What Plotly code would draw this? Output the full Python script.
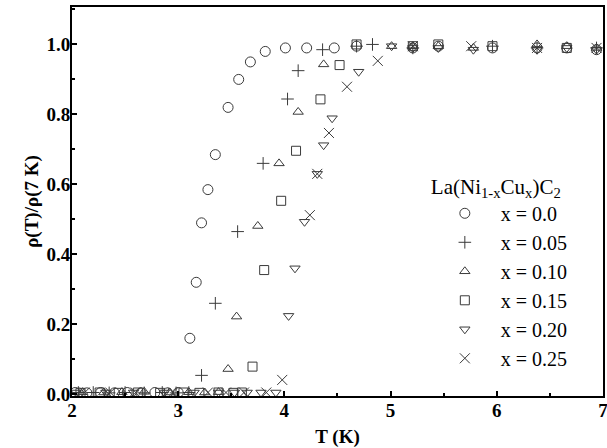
import plotly.graph_objects as go

# x = 0.0 (circles)
t_00 = [2.03, 2.14, 2.27, 2.40, 2.52, 2.65, 2.78, 2.90, 3.00, 3.11, 3.17, 3.22, 3.28, 3.35, 3.47, 3.57, 3.68, 3.82, 4.01, 4.21, 4.47, 4.68, 5.21, 5.45, 5.96, 6.38, 6.66, 6.94]
r_00 = [0.005, 0.004, 0.005, 0.004, 0.005, 0.004, 0.005, 0.004, 0.005, 0.16, 0.32, 0.49, 0.585, 0.685, 0.82, 0.90, 0.95, 0.98, 0.99, 0.99, 0.99, 0.995, 0.99, 0.995, 0.99, 0.99, 0.99, 0.985]
# x = 0.05 (plus)
t_05 = [2.06, 2.20, 2.35, 2.50, 2.68, 2.85, 2.98, 3.10, 3.22, 3.35, 3.56, 3.80, 4.03, 4.13, 4.36, 4.68, 4.83, 5.21, 5.96, 6.38, 6.94]
r_05 = [0.005, 0.005, 0.004, 0.005, 0.004, 0.005, 0.004, 0.005, 0.054, 0.26, 0.465, 0.66, 0.844, 0.925, 0.985, 0.995, 1.0, 0.99, 0.995, 0.99, 0.99]
# x = 0.10 (triangle up)
t_10 = [2.10, 2.30, 2.47, 2.68, 2.92, 3.10, 3.25, 3.38, 3.47, 3.55, 3.75, 3.95, 4.13, 4.37, 5.01, 5.21, 5.45, 5.78, 6.38, 6.66, 6.94]
r_10 = [0.006, 0.005, 0.006, 0.007, 0.005, 0.006, 0.005, 0.006, 0.072, 0.222, 0.481, 0.66, 0.807, 0.943, 0.995, 0.995, 0.995, 0.99, 1.0, 0.995, 0.99]
# x = 0.15 (square)
t_15 = [2.08, 2.26, 2.44, 2.62, 2.83, 3.05, 3.20, 3.38, 3.52, 3.60, 3.70, 3.81, 3.97, 4.11, 4.34, 4.52, 4.68, 5.21, 5.45, 5.96, 6.66]
r_15 = [0.004, 0.005, 0.004, 0.005, 0.004, 0.005, 0.004, 0.005, 0.004, 0.005, 0.079, 0.355, 0.553, 0.696, 0.843, 0.941, 1.0, 0.995, 1.0, 0.995, 0.99]
# x = 0.20 (triangle down)
t_20 = [2.04, 2.32, 2.58, 2.87, 3.15, 3.38, 3.53, 3.65, 3.78, 3.92, 4.04, 4.10, 4.19, 4.31, 4.37, 4.45, 4.70, 5.01, 5.21, 5.45, 5.78, 6.38, 6.66, 6.94]
r_20 = [0.005, 0.005, 0.005, 0.005, 0.005, 0.005, 0.005, 0.005, 0.005, 0.005, 0.224, 0.36, 0.493, 0.63, 0.712, 0.789, 0.922, 0.995, 0.99, 0.99, 0.985, 0.985, 0.99, 0.985]
# x = 0.25 (x)
t_25 = [2.12, 2.36, 2.60, 2.95, 3.28, 3.45, 3.62, 3.83, 3.98, 4.24, 4.31, 4.42, 4.59, 4.88, 5.21, 5.76, 6.38, 6.94]
r_25 = [0.005, 0.005, 0.005, 0.005, 0.005, 0.005, 0.005, 0.005, 0.041, 0.512, 0.63, 0.747, 0.879, 0.953, 0.995, 0.995, 0.99, 0.99]

series_names = ["x = 0.0", "x = 0.05", "x = 0.10", "x = 0.15", "x = 0.20", "x = 0.25"]
series_t = [t_00, t_05, t_10, t_15, t_20, t_25]
series_r = [r_00, r_05, r_10, r_15, r_20, r_25]
symbols = ["circle-open", "cross-thin-open", "triangle-up-open", "square-open", "triangle-down-open", "x-thin-open"]
sizes = [10, 9, 9, 9, 9, 10]

x_ticks = [2, 3, 4, 5, 6, 7]
y_ticks = [0.0, 0.2, 0.4, 0.6, 0.8, 1.0]

ink = "#3a3a3a"
fig = go.Figure()
for name, t, r, sym, sz in zip(series_names, series_t, series_r, symbols, sizes):
    fig.add_trace(go.Scatter(
        x=t, y=r, mode="markers", name=name,
        marker=dict(symbol=sym, size=sz, color=ink, line=dict(color=ink, width=1)),
    ))

serif = "Liberation Serif"
fig.update_layout(
    width=607, height=448,
    margin=dict(l=72, r=4, t=7, b=52, autoexpand=False),
    plot_bgcolor="white", paper_bgcolor="white",
    legend=dict(
        x=0.672, y=0.59, xanchor="left", yanchor="top",
        bgcolor="rgba(0,0,0,0)",
        font=dict(family=serif, size=20, color="black"),
        title=dict(text="La(Ni<sub>1-x</sub>Cu<sub>x</sub>)C<sub>2</sub>",
                   font=dict(family=serif, size=21, color="black"), side="top"),
        tracegroupgap=0, itemwidth=62,
    ),
    xaxis=dict(
        range=[2, 7.001], tickvals=x_ticks, ticktext=[str(v) for v in x_ticks],
        ticks="inside", ticklen=5, tickwidth=2, tickcolor="black",
        minor=dict(ticks="inside", ticklen=3, tickwidth=2, tickcolor="black", dtick=0.5),
        showline=True, linecolor="black", linewidth=2, mirror=True,
        showgrid=False, zeroline=False, automargin=False, ticklabelstandoff=-4,
        ticklabeloverflow="allow",
        tickfont=dict(family=serif, size=19, color="black", weight="bold"),
        title=dict(text="T (K)", font=dict(family=serif, size=19, color="black", weight="bold")),
    ),
    yaxis=dict(
        range=[-0.005, 1.107], tickvals=y_ticks, ticktext=["%.1f" % v for v in y_ticks],
        ticks="inside", ticklen=5, tickwidth=2, tickcolor="black",
        minor=dict(ticks="inside", ticklen=3, tickwidth=2, tickcolor="black", dtick=0.1),
        showline=True, linecolor="black", linewidth=2, mirror=True,
        showgrid=False, zeroline=False, automargin=True, ticklabelstandoff=-4,
        tickfont=dict(family=serif, size=19, color="black", weight="bold"),
        title=dict(text="ρ(T)/ρ(7 K)", font=dict(family=serif, size=19, color="black", weight="bold"),
                   standoff=3),
    ),
)

fig.write_html("out.html", config={"displayModeBar": False},
               post_script="document.body.style.margin='0';")
